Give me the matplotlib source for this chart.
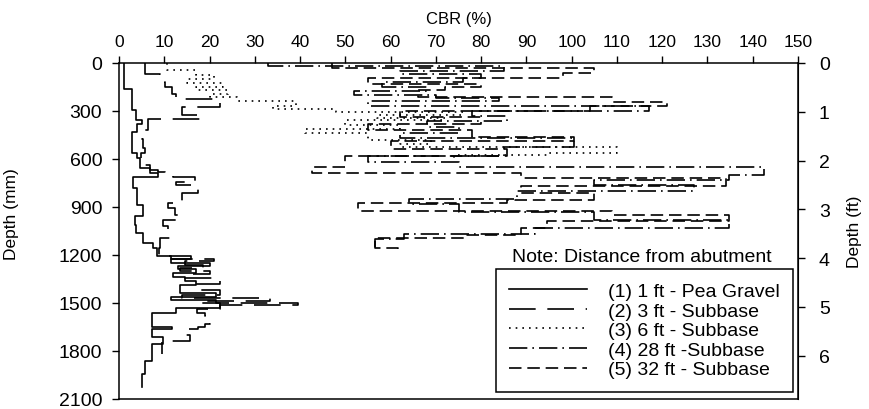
import numpy as np
import matplotlib
matplotlib.use("Agg")
import matplotlib.pyplot as plt

plt.rcParams["font.family"] = ["Liberation Sans", "DejaVu Sans"]

# ---- data: layer boundaries (mm) and CBR (%) for each layer ----
# (1) 1 ft - Pea Gravel
d1 = [0, 160, 296, 358, 380, 430, 565, 596, 658, 690, 710, 783, 886, 957, 1010,
      1062, 1125, 1155, 1205, 1225, 1250, 1270, 1290, 1315, 1340, 1360, 1390,
      1440, 1465, 1480, 1500, 1530, 1565, 1652, 1662, 1714, 1756, 1860, 1942, 2025]
v1 = [1.0, 2.8, 3.8, 5.0, 3.9, 2.8, 3.9, 4.6, 6.9, 8.6, 3.1, 3.9, 5.4, 3.5,
      3.8, 5.3, 7.5, 8.3, 16.0, 11.5, 20.0, 13.0, 17.0, 12.0, 14.5, 17.0, 13.5,
      21.5, 11.5, 21.5, 22.3, 12.7, 7.2, 11.6, 7.2, 9.8, 7.2, 5.8, 5.0]

# (2) 3 ft - Subbase
d2 = [0, 68, 118, 150, 193, 224, 242, 274, 327, 352, 420, 472, 534, 560, 596,
      638, 669, 679, 690, 710, 741, 762, 814, 876, 907, 948, 979, 1019, 1062,
      1093, 1155, 1205, 1225, 1240, 1260, 1280, 1300, 1320, 1345, 1380, 1420,
      1450, 1466, 1490, 1500, 1515, 1540, 1560, 1580, 1632, 1648, 1665, 1700,
      1735, 1818]
v2 = [5.8, 9.0, 10.2, 11.6, 12.7, 20.8, 22.3, 13.9, 18.3, 6.4, 5.0, 5.4, 5.8,
      4.8, 5.6, 6.9, 8.7, 10.2, 12.0, 16.8, 12.7, 17.5, 14.0, 10.9, 12.4, 13.5,
      9.8, 10.9, 11.3, 9.0, 8.8, 11.5, 21.0, 14.5, 18.5, 13.5, 20.0, 14.5, 22.3,
      17.0, 22.3, 14.0, 33.4, 18.0, 39.6, 22.3, 17.2, 19.0, 20.0, 19.0, 17.5,
      14.6, 15.7, 9.4]

# (3) 6 ft - Subbase
d3 = [0, 45, 75, 100, 125, 150, 170, 195, 215, 235, 270, 286, 306, 327, 345,
      358, 390, 410, 440, 482, 505, 524, 560, 576, 595]
v3 = [10.5, 17.0, 21.0, 15.0, 23.0, 17.0, 24.0, 20.0, 26.0, 39.0, 34.0, 48.0,
      76.0, 57.0, 72.0, 50.0, 62.0, 41.0, 55.0, 69.0, 62.0, 110.0, 95.0, 74.0]

# (4) 28 ft - Subbase
d4 = [0, 20, 50, 70, 95, 120, 150, 175, 200, 220, 240, 270, 298, 330, 360, 400,
      440, 470, 525, 580, 620, 648, 700, 730, 760, 800, 850, 880, 930, 980,
      1030, 1070, 1100, 1150]
v4 = [33.0, 85.0, 62.0, 80.0, 76.0, 58.0, 68.0, 52.0, 70.0, 84.0, 55.0, 117.0,
      78.0, 85.8, 68.0, 75.0, 62.0, 100.5, 85.0, 55.0, 75.0, 142.5, 134.7,
      105.0, 127.0, 88.0, 64.0, 75.0, 105.0, 134.7, 92.0, 63.0, 56.6]

# (5) 32 ft - Subbase
d5 = [0, 30, 60, 95, 130, 150, 170, 210, 245, 270, 300, 340, 380, 420, 460,
      490, 540, 580, 620, 650, 689, 720, 770, 814, 855, 876, 926, 950, 990,
      1031, 1072, 1093, 1155, 1170]
v5 = [47.0, 105.0, 98.0, 55.0, 80.0, 72.0, 66.0, 109.0, 121.0, 104.0, 62.0,
      80.0, 55.0, 78.0, 100.5, 60.0, 85.8, 50.0, 50.0, 42.6, 88.7, 134.0, 88.7,
      105.0, 85.8, 52.8, 109.0, 134.7, 94.6, 88.7, 76.5, 56.6, 61.7]

labels = ["(1) 1 ft - Pea Gravel", "(2) 3 ft - Subbase", "(3) 6 ft - Subbase",
          "(4) 28 ft -Subbase", "(5) 32 ft - Subbase"]
styles = ["-", (0, (16, 7)), (0, (1, 3)), (0, (11, 3, 1, 3)), (0, (7.5, 3.5))]

x_ticks = np.arange(0, 151, 10)
y_ticks = np.arange(0, 2101, 300)
ft_ticks = np.arange(0, 7)


def profile(d, v):
    # vertical step profile: each layer drawn from its top to its bottom
    d = np.asarray(d, float)
    v = np.asarray(v, float)
    yy = np.column_stack([d[:-1], d[1:]]).ravel()
    xx = np.repeat(v, 2)
    return xx, yy


fig = plt.figure(figsize=(8.7, 4.1), dpi=100)
ax = fig.add_axes([119 / 870, 1 - 400 / 410, (798 - 119) / 870, (400 - 64) / 410])

for d, v, ls, lab in zip([d1, d2, d3, d4, d5], [v1, v2, v3, v4, v5], styles, labels):
    xx, yy = profile(d, v)
    ax.plot(xx, yy, color="black", lw=1.2, linestyle=ls, label=lab)

ax.set_xlim(0, 150)
ax.set_ylim(2100, 0)
ax.set_xticks(x_ticks)
ax.set_yticks(y_ticks)
ax.xaxis.tick_top()
ax.xaxis.set_label_position("top")
ax.tick_params(axis="x", direction="out", length=5, width=1, pad=5, labelsize=12.5)
ax.tick_params(axis="y", direction="out", length=5, width=1, pad=7, labelsize=14)
ax.set_xlabel("CBR (%)", fontsize=12, labelpad=8)
ax.set_ylabel("Depth (mm)", fontsize=12.5)
ax.yaxis.set_label_coords(-0.147, 0.553)
for s in ax.spines.values():
    s.set_linewidth(1.1)

sec = ax.secondary_yaxis("right", functions=(lambda mm: mm / 304.8, lambda ft: ft * 304.8))
sec.set_yticks(ft_ticks)
sec.tick_params(direction="out", length=5, width=1, pad=10, labelsize=14)
sec.set_ylabel("Depth (ft)", fontsize=12.5, labelpad=12)

leg = ax.legend(loc="lower right", bbox_to_anchor=(793 / 870, 1 - 393 / 410),
                bbox_transform=fig.transFigure, borderaxespad=0, fontsize=14,
                handlelength=4.0, handletextpad=1.05, labelspacing=0.1,
                borderpad=0.7, fancybox=False, framealpha=1, edgecolor="black")
leg.get_frame().set_linewidth(1.1)

fig.text(642 / 870, 1 - 257 / 410, "Note: Distance from abutment", fontsize=14,
         ha="center", va="center")

fig.savefig("out.png", dpi=100)
